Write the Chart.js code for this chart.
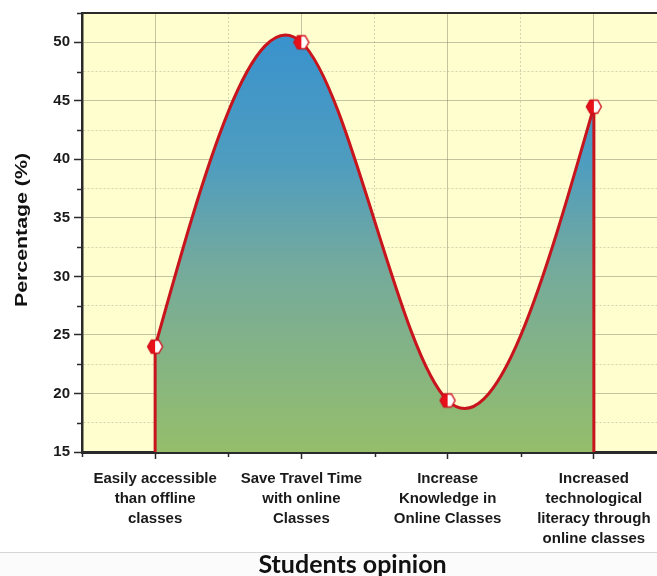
<!DOCTYPE html>
<html>
<head>
<meta charset="utf-8">
<script src="https://cdn.jsdelivr.net/npm/chart.js@4.4.0/dist/chart.umd.min.js"></script>
<style>
  html, body { margin: 0; padding: 0; background: #fff; width: 657px; height: 576px; overflow: hidden; }
  #wrap { position: absolute; left: 0; top: 0; width: 677px; height: 553px; }
  #rule { position: absolute; left: 0; top: 552px; width: 657px; height: 24px; border-top: 1px solid #d6d6d6; background: #fbfbfb; }
  #xtitle { position: absolute; left: 200px; top: 549px; width: 305px; text-align: center;
            font: bold 25px Lato, "Open Sans", sans-serif; color: #111; line-height: 28px; white-space: nowrap; }
</style>
</head>
<body>
<div id="wrap"><canvas id="chart" width="677" height="553"></canvas></div>
<div id="rule"></div>
<div id="xtitle">Students opinion</div>
<script>
// Survey categories (x axis) and share of students agreeing (%)
const categories = [
  ["Easily accessible", "than offline", "classes"],
  ["Save Travel Time", "with online", "Classes"],
  ["Increase", "Knowledge in", "Online Classes"],
  ["Increased", "technological", "literacy through", "online classes"]
];
const percentages = [24, 50, 19.4, 44.5];

// Axis settings
const yMin = 15;
const yMax = 52.5;
const yStep = 2.5;
const yLabelStep = 5;
const yTitle = "Percentage (%)";

const RED = "#c8141c";
const AXIS = "#2a2a2a";

// Marker: hexagon, left half red, right half white
function makeMarker() {
  const s = 18, c = s / 2, r = 7.5;
  const cv = document.createElement("canvas");
  cv.width = s; cv.height = s;
  const g = cv.getContext("2d");
  const hex = () => {
    g.beginPath();
    for (let k = 0; k < 6; k++) {
      const a = Math.PI / 3 * k;
      const px = c + r * Math.cos(a), py = c + r * Math.sin(a);
      k ? g.lineTo(px, py) : g.moveTo(px, py);
    }
    g.closePath();
  };
  hex(); g.fillStyle = "#ffffff"; g.fill();
  g.save(); hex(); g.clip();
  g.fillStyle = "#e8101a"; g.fillRect(0, 0, c, s);
  g.restore();
  hex(); g.lineWidth = 1.4; g.strokeStyle = "#d0101a"; g.stroke();
  return cv;
}
const marker = makeMarker();

// Natural cubic spline through the plotted points (pixel space)
const naturalSpline = {
  id: "naturalSpline",
  afterDatasetsUpdate(chart) {
    const meta = chart.getDatasetMeta(0);
    const pts = meta.data;
    const n = pts.length;
    if (n < 2) return;
    const xs = pts.map(p => p.x), ys = pts.map(p => p.y);
    const h = [];
    for (let i = 0; i < n - 1; i++) h[i] = xs[i + 1] - xs[i];
    const M = new Array(n).fill(0);
    if (n > 2) {
      const a = [], b = [], c = [], d = [];
      for (let i = 1; i < n - 1; i++) {
        a.push(h[i - 1]); b.push(2 * (h[i - 1] + h[i])); c.push(h[i]);
        d.push(6 * ((ys[i + 1] - ys[i]) / h[i] - (ys[i] - ys[i - 1]) / h[i - 1]));
      }
      const m = a.length;
      for (let i = 1; i < m; i++) {
        const w = a[i] / b[i - 1];
        b[i] -= w * c[i - 1];
        d[i] -= w * d[i - 1];
      }
      const sol = new Array(m);
      sol[m - 1] = d[m - 1] / b[m - 1];
      for (let i = m - 2; i >= 0; i--) sol[i] = (d[i] - c[i] * sol[i + 1]) / b[i];
      for (let i = 0; i < m; i++) M[i + 1] = sol[i];
    }
    const slope = i => i < n - 1
      ? (ys[i + 1] - ys[i]) / h[i] - h[i] * (2 * M[i] + M[i + 1]) / 6
      : (ys[i] - ys[i - 1]) / h[i - 1] + h[i - 1] * (M[i - 1] + 2 * M[i]) / 6;
    pts.forEach((p, i) => {
      const s = slope(i);
      if (i > 0) { p.cp1x = xs[i] - h[i - 1] / 3; p.cp1y = ys[i] - s * h[i - 1] / 3; }
      else { p.cp1x = p.x; p.cp1y = p.y; }
      if (i < n - 1) { p.cp2x = xs[i] + h[i] / 3; p.cp2y = ys[i] + s * h[i] / 3; }
      else { p.cp2x = p.x; p.cp2y = p.y; }
    });
    meta.dataset._pointsUpdated = true;
  }
};

// Plot background, top frame line, minor ticks, rotated y title
const frame = {
  id: "frame",
  beforeDraw(chart) {
    const { ctx, chartArea: a } = chart;
    ctx.save();
    ctx.fillStyle = "#fefecf";
    ctx.fillRect(a.left, a.top, a.right - a.left, a.bottom - a.top);
    ctx.restore();
  },
  afterDraw(chart) {
    const { ctx, chartArea: a, scales } = chart;
    ctx.save();
    ctx.strokeStyle = AXIS;
    ctx.lineWidth = 2;
    ctx.beginPath();
    ctx.moveTo(a.left - 1, a.top);
    ctx.lineTo(a.right, a.top);
    ctx.stroke();
    ctx.lineWidth = 1.5;
    scales.y.ticks.forEach(t => {
      if (t.value % yLabelStep !== 0) {
        const y = Math.round(scales.y.getPixelForValue(t.value)) + 0.5;
        ctx.beginPath(); ctx.moveTo(a.left - 5, y); ctx.lineTo(a.left, y); ctx.stroke();
      }
    });
    scales.x.ticks.forEach(t => {
      if (!Number.isInteger(t.value)) {
        const x = Math.round(scales.x.getPixelForValue(t.value)) + 0.5;
        ctx.beginPath(); ctx.moveTo(x, a.bottom); ctx.lineTo(x, a.bottom + 5); ctx.stroke();
      }
    });
    // y axis title
    ctx.font = "bold 17px 'Liberation Sans', Arial, sans-serif";
    ctx.fillStyle = "#111";
    ctx.textAlign = "center";
    ctx.textBaseline = "middle";
    const w = ctx.measureText(yTitle).width;
    ctx.translate(22, 230);
    ctx.rotate(-Math.PI / 2);
    ctx.scale(154 / w, 1);
    ctx.fillText(yTitle, 0, 0);
    ctx.restore();
  }
};

const isMajorY = v => v % yLabelStep === 0;
const isMajorX = v => Number.isInteger(v);
const last = percentages.length - 1;

const dropStyle = {
  borderColor: RED, borderWidth: 3, pointRadius: 0, tension: 0, fill: false, order: 1
};

new Chart(document.getElementById("chart"), {
  type: "line",
  data: {
    datasets: [
      {
        data: percentages.map((v, i) => ({ x: i, y: v })),
        borderColor: RED,
        borderWidth: 3,
        tension: 0.4,
        fill: "start",
        backgroundColor: (context) => {
          const chart = context.chart;
          const area = chart.chartArea;
          if (!area) return "#6aa6a6";
          const ys = chart.scales.y;
          const g = chart.ctx.createLinearGradient(0, ys.getPixelForValue(Math.max(...percentages)), 0, area.bottom);
          g.addColorStop(0, "#3a93cc");
          g.addColorStop(0.3, "#4f9dbf");
          g.addColorStop(0.55, "#74aa9c");
          g.addColorStop(1, "#95be6b");
          return g;
        },
        pointStyle: marker,
        pointRadius: 7,
        order: 0
      },
      Object.assign({ data: [{ x: 0, y: yMin }, { x: 0, y: percentages[0] }] }, dropStyle),
      Object.assign({ data: [{ x: last, y: yMin }, { x: last, y: percentages[last] }] }, dropStyle)
    ]
  },
  options: {
    responsive: false,
    maintainAspectRatio: false,
    animation: false,
    events: [],
    layout: { padding: { top: 13, right: 4, left: 0, bottom: 0 } },
    plugins: {
      legend: { display: false },
      tooltip: { enabled: false },
      filler: { drawTime: "beforeDatasetsDraw" }
    },
    scales: {
      x: {
        type: "linear",
        min: -0.5,
        max: categories.length - 0.5,
        afterFit: s => { s.height = 101; s.paddingLeft = 0; s.paddingRight = 0; },
        ticks: {
          stepSize: 0.5,
          autoSkip: false,
          maxRotation: 0,
          minRotation: 0,
          padding: 10,
          color: "#1a1a1a",
          font: { family: "'Liberation Sans', Arial, sans-serif", size: 15, weight: "bold", lineHeight: "20px" },
          callback: v => (isMajorX(v) && categories[v]) ? categories[v] : ""
        },
        grid: {
          color: c => c.tick && isMajorX(c.tick.value) ? "rgba(110,110,90,0.4)" : "rgba(150,150,130,0.4)",
          lineWidth: 1,
          tickLength: 7,
          tickWidth: 1.5,
          tickColor: c => c.tick && isMajorX(c.tick.value) ? AXIS : "rgba(0,0,0,0)"
        },
        border: { color: AXIS, width: 3, dash: c => (c.tick && !isMajorX(c.tick.value)) ? [2, 2] : [] }
      },
      y: {
        min: yMin,
        max: yMax,
        afterFit: s => { s.width = 82; },
        ticks: {
          stepSize: yStep,
          autoSkip: false,
          padding: 4,
          color: "#1a1a1a",
          font: { family: "'Liberation Sans', Arial, sans-serif", size: 15, weight: "bold" },
          callback: v => isMajorY(v) ? String(v) : ""
        },
        grid: {
          color: c => c.tick && isMajorY(c.tick.value) ? "rgba(110,110,90,0.4)" : "rgba(150,150,130,0.4)",
          lineWidth: 1,
          tickLength: 8,
          tickWidth: 1.5,
          tickColor: c => c.tick && isMajorY(c.tick.value) ? AXIS : "rgba(0,0,0,0)"
        },
        border: { color: AXIS, width: 2.5, dash: c => (c.tick && !isMajorY(c.tick.value)) ? [2, 2] : [] }
      }
    }
  },
  plugins: [naturalSpline, frame]
});
</script>
</body>
</html>
